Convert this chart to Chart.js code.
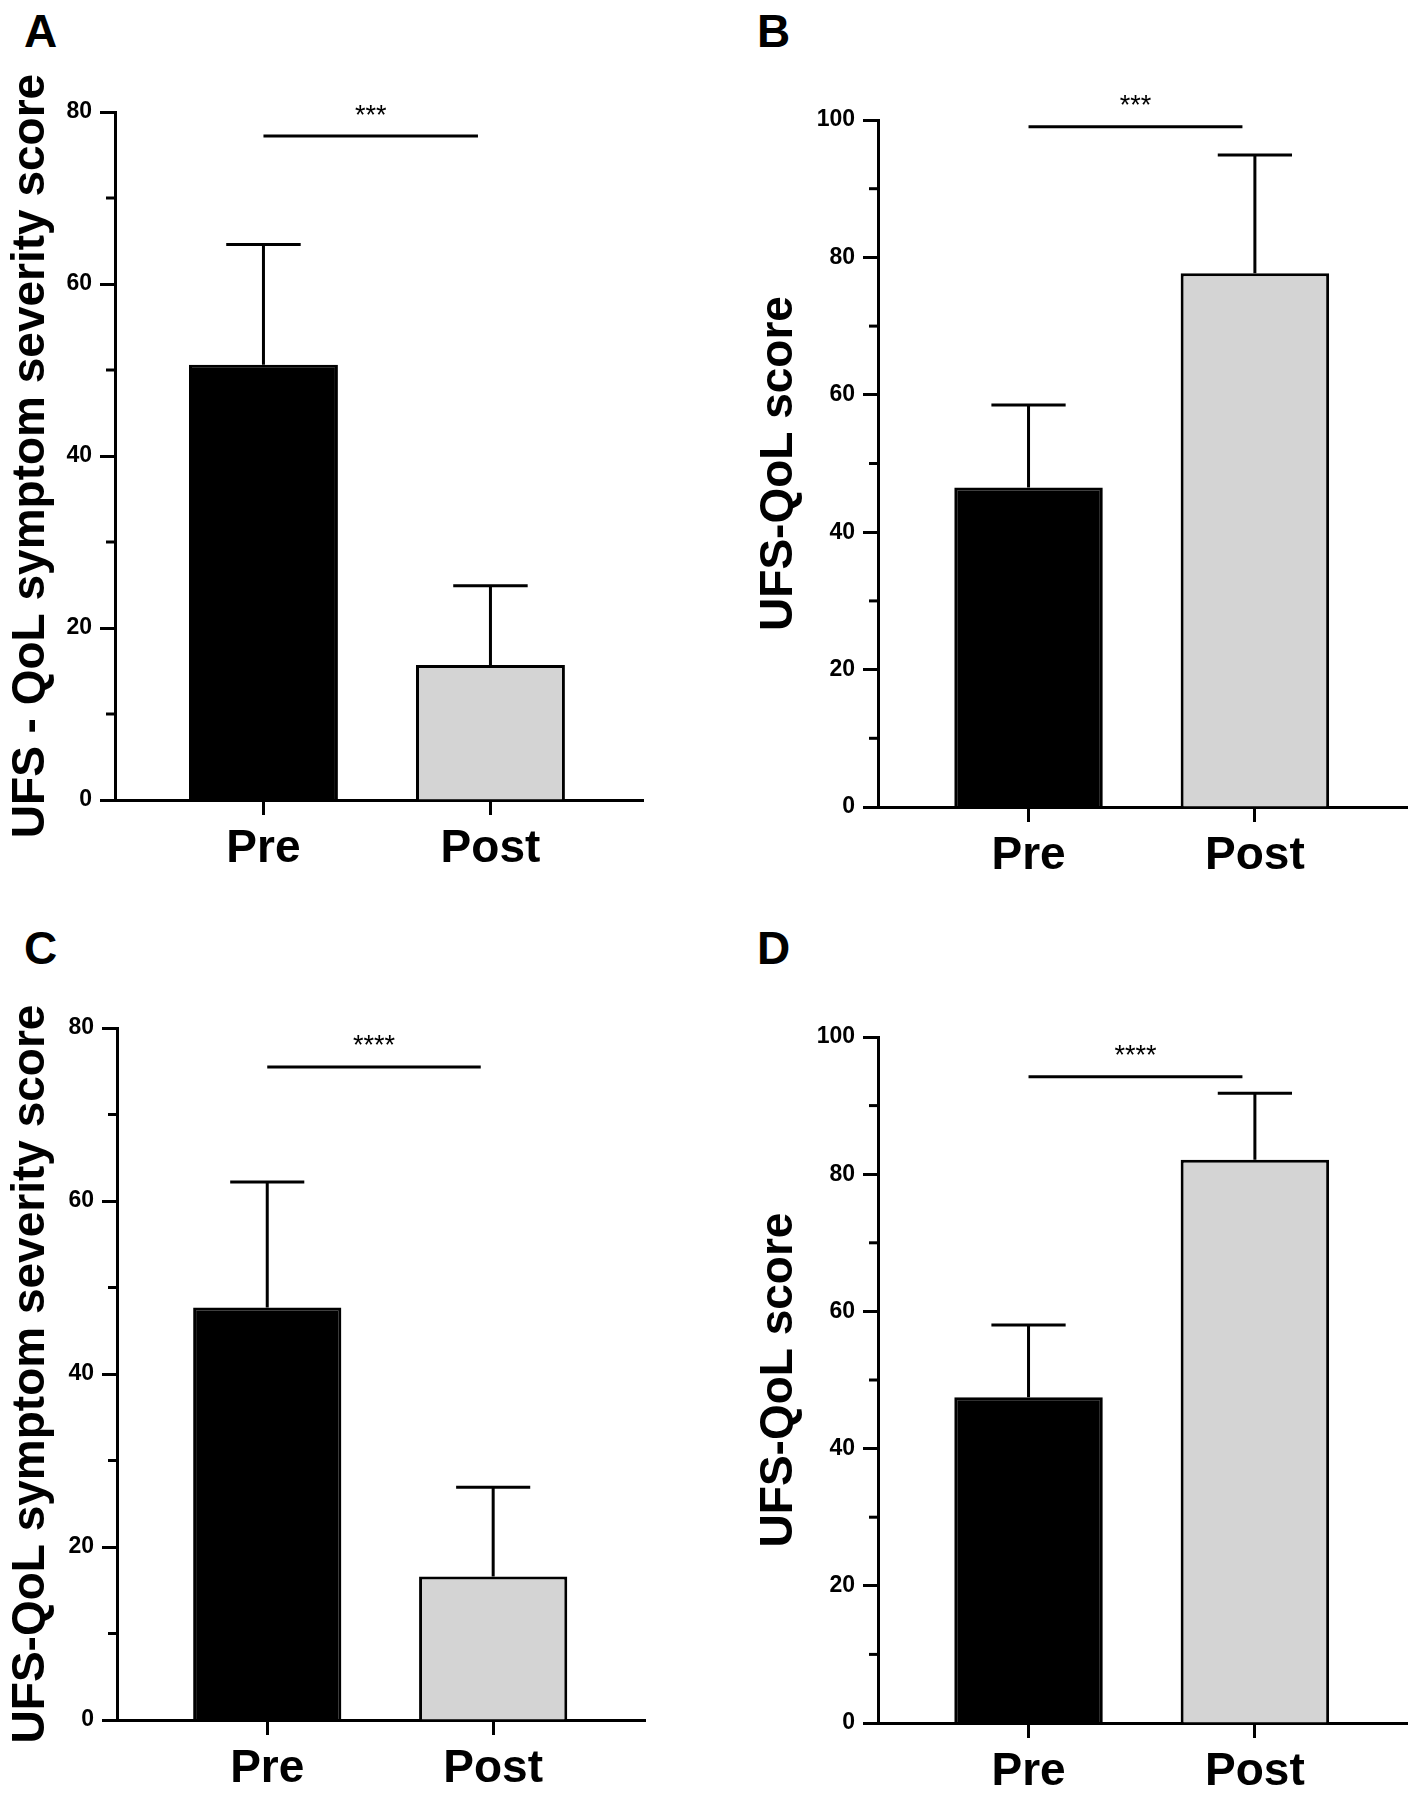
<!DOCTYPE html>
<html>
<head>
<meta charset="utf-8">
<script src="https://cdn.jsdelivr.net/npm/chart.js@4.4.1/dist/chart.umd.min.js"></script>
<style>
	body { margin: 0; background: #fff; }
	#page { position: relative; width: 1420px; height: 1800px; background: #fff; font-family: 'Liberation Sans', Arial, sans-serif; }
	canvas { position: absolute; }
	.letter { position: absolute; font-weight: bold; font-size: 46px; line-height: 46px; color: #000; }
</style>
</head>
<body>
<div id="page">
	<div class="letter" style="left:24px;top:8px">A</div>
	<div class="letter" style="left:757px;top:8px">B</div>
	<div class="letter" style="left:24px;top:925px">C</div>
	<div class="letter" style="left:757px;top:925px">D</div>
	<canvas id="chart-a" width="710" height="900" style="left:0;top:0"></canvas>
	<canvas id="chart-b" width="710" height="900" style="left:710px;top:0"></canvas>
	<canvas id="chart-c" width="710" height="900" style="left:0;top:900px"></canvas>
	<canvas id="chart-d" width="710" height="900" style="left:710px;top:900px"></canvas>
</div>
<script>
const categories = ['Pre', 'Post']

// A: symptom severity, first cohort
const severityMeanA = [50.6, 15.7]
const severitySdA = [14.0, 9.2]
const sigLevelA = 77.2
const sigTextA = '***'

// B: HRQoL, first cohort
const qolMeanB = [46.5, 77.7]
const qolSdB = [12.0, 17.2]
const sigLevelB = 99.0
const sigTextB = '***'

// C: symptom severity, second cohort
const severityMeanC = [47.7, 16.6]
const severitySdC = [14.5, 10.3]
const sigLevelC = 75.5
const sigTextC = '****'

// D: HRQoL, second cohort
const qolMeanD = [47.5, 82.1]
const qolSdD = [10.5, 9.7]
const sigLevelD = 94.2
const sigTextD = '****'

const FONT = "'Liberation Sans', Arial, sans-serif"

const makeOverlay = (means, sds, sigLevel, sigText) => {
	return {
		id: 'overlay',
		afterDatasetsDraw(chart) {
			const ctx = chart.ctx
			const xs = chart.scales.x
			const ys = chart.scales.y
			const bars = chart.getDatasetMeta(0).data

			ctx.save()
			ctx.strokeStyle = '#000'
			ctx.fillStyle = '#000'
			ctx.lineWidth = 3

			// error bars (upper side only)
			bars.forEach((bar, i) => {
				const top = ys.getPixelForValue(means[i] + sds[i])
				const half = bar.width / 4
				ctx.beginPath()
				ctx.moveTo(bar.x, bar.y)
				ctx.lineTo(bar.x, top)
				ctx.moveTo(bar.x - half, top)
				ctx.lineTo(bar.x + half, top)
				ctx.stroke()
			})

			// significance line
			const sy = ys.getPixelForValue(sigLevel)
			const x1 = xs.getPixelForValue(1)
			const x2 = xs.getPixelForValue(1.945)
			ctx.beginPath()
			ctx.moveTo(x1, sy)
			ctx.lineTo(x2, sy)
			ctx.stroke()

			ctx.font = '27px ' + FONT
			ctx.textAlign = 'center'
			ctx.textBaseline = 'middle'
			ctx.fillText(sigText, (x1 + x2) / 2, sy - 20)

			// short minor ticks
			ys.ticks.forEach(t => {
				if (t.value % 20 === 0) return
				const py = ys.getPixelForValue(t.value)
				ctx.beginPath()
				ctx.moveTo(ys.right - 9, py)
				ctx.lineTo(ys.right + 1, py)
				ctx.stroke()
			})
			ctx.restore()
		}
	}
}

const makeChart = (id, panel) => {
	const ctx = document.getElementById(id)
	return new Chart(ctx, {
		type: 'bar',
		data: {
			datasets: [{
				data: categories.map((c, i) => { return { x: i + 1, y: panel.means[i] } }),
				backgroundColor: ['#000000', '#d4d4d4'],
				borderColor: '#000',
				borderWidth: 3,
				barPercentage: 0.656,
				categoryPercentage: 1
			}]
		},
		options: {
			responsive: false,
			animation: false,
			devicePixelRatio: 1,
			events: [],
			layout: {
				padding: { left: 0, top: panel.top, right: 710 - panel.right, bottom: 900 - panel.bottom - 70 }
			},
			plugins: {
				legend: { display: false },
				tooltip: { enabled: false }
			},
			scales: {
				x: {
					type: 'linear',
					min: panel.xMin,
					max: panel.xMax,
					offset: false,
					afterBuildTicks: scale => {
						scale.ticks = categories.map((c, i) => { return { value: i + 1 } })
					},
					afterFit: scale => { scale.height = 70 },
					grid: { drawOnChartArea: false, offset: false, tickLength: 15, tickWidth: 3, tickColor: '#000' },
					border: { display: true, color: '#000', width: 3 },
					ticks: {
						autoSkip: false,
						maxRotation: 0,
						padding: 7,
						color: '#000',
						font: { family: FONT, size: 46, weight: 'bold' },
						callback: v => categories[v - 1]
					}
				},
				y: {
					min: 0,
					max: panel.yMax,
					afterFit: scale => { scale.width = panel.axisX },
					grid: {
						drawOnChartArea: false,
						tickLength: 15,
						tickWidth: 3,
						tickColor: c => c.tick.value % 20 === 0 ? '#000' : 'rgba(0,0,0,0)'
					},
					border: { display: true, color: '#000', width: 3 },
					ticks: {
						stepSize: 10,
						autoSkip: false,
						padding: 8,
						color: '#000',
						font: { family: FONT, size: 23, weight: 'bold' },
						callback: v => v % 20 === 0 ? v : ''
					},
					title: {
						display: true,
						text: panel.title,
						color: '#000',
						font: { family: FONT, size: panel.titleSize, weight: 'bold', lineHeight: 1 },
						padding: { top: panel.titlePad, bottom: 0 }
					}
				}
			}
		},
		plugins: [makeOverlay(panel.means, panel.sds, panel.sigLevel, panel.sigText)]
	})
}

makeChart('chart-a', {
	means: severityMeanA, sds: severitySdA, sigLevel: sigLevelA, sigText: sigTextA,
	yMax: 80, title: 'UFS - QoL symptom severity score', titleSize: 46, titlePad: 8,
	axisX: 115, top: 112, bottom: 800, right: 643, xMin: 0.346, xMax: 2.672
})

makeChart('chart-b', {
	means: qolMeanB, sds: qolSdB, sigLevel: sigLevelB, sigText: sigTextB,
	yMax: 100, title: 'UFS-QoL score', titleSize: 46, titlePad: 46,
	axisX: 168, top: 120, bottom: 807, right: 697, xMin: 0.335, xMax: 2.672
})

makeChart('chart-c', {
	means: severityMeanC, sds: severitySdC, sigLevel: sigLevelC, sigText: sigTextC,
	yMax: 80, title: 'UFS-QoL symptom severity score', titleSize: 46, titlePad: 8,
	axisX: 117, top: 128, bottom: 820, right: 645, xMin: 0.335, xMax: 2.672
})

makeChart('chart-d', {
	means: qolMeanD, sds: qolSdD, sigLevel: sigLevelD, sigText: sigTextD,
	yMax: 100, title: 'UFS-QoL score', titleSize: 46, titlePad: 46,
	axisX: 168, top: 137, bottom: 823, right: 697, xMin: 0.335, xMax: 2.672
})
</script>
</body>
</html>
